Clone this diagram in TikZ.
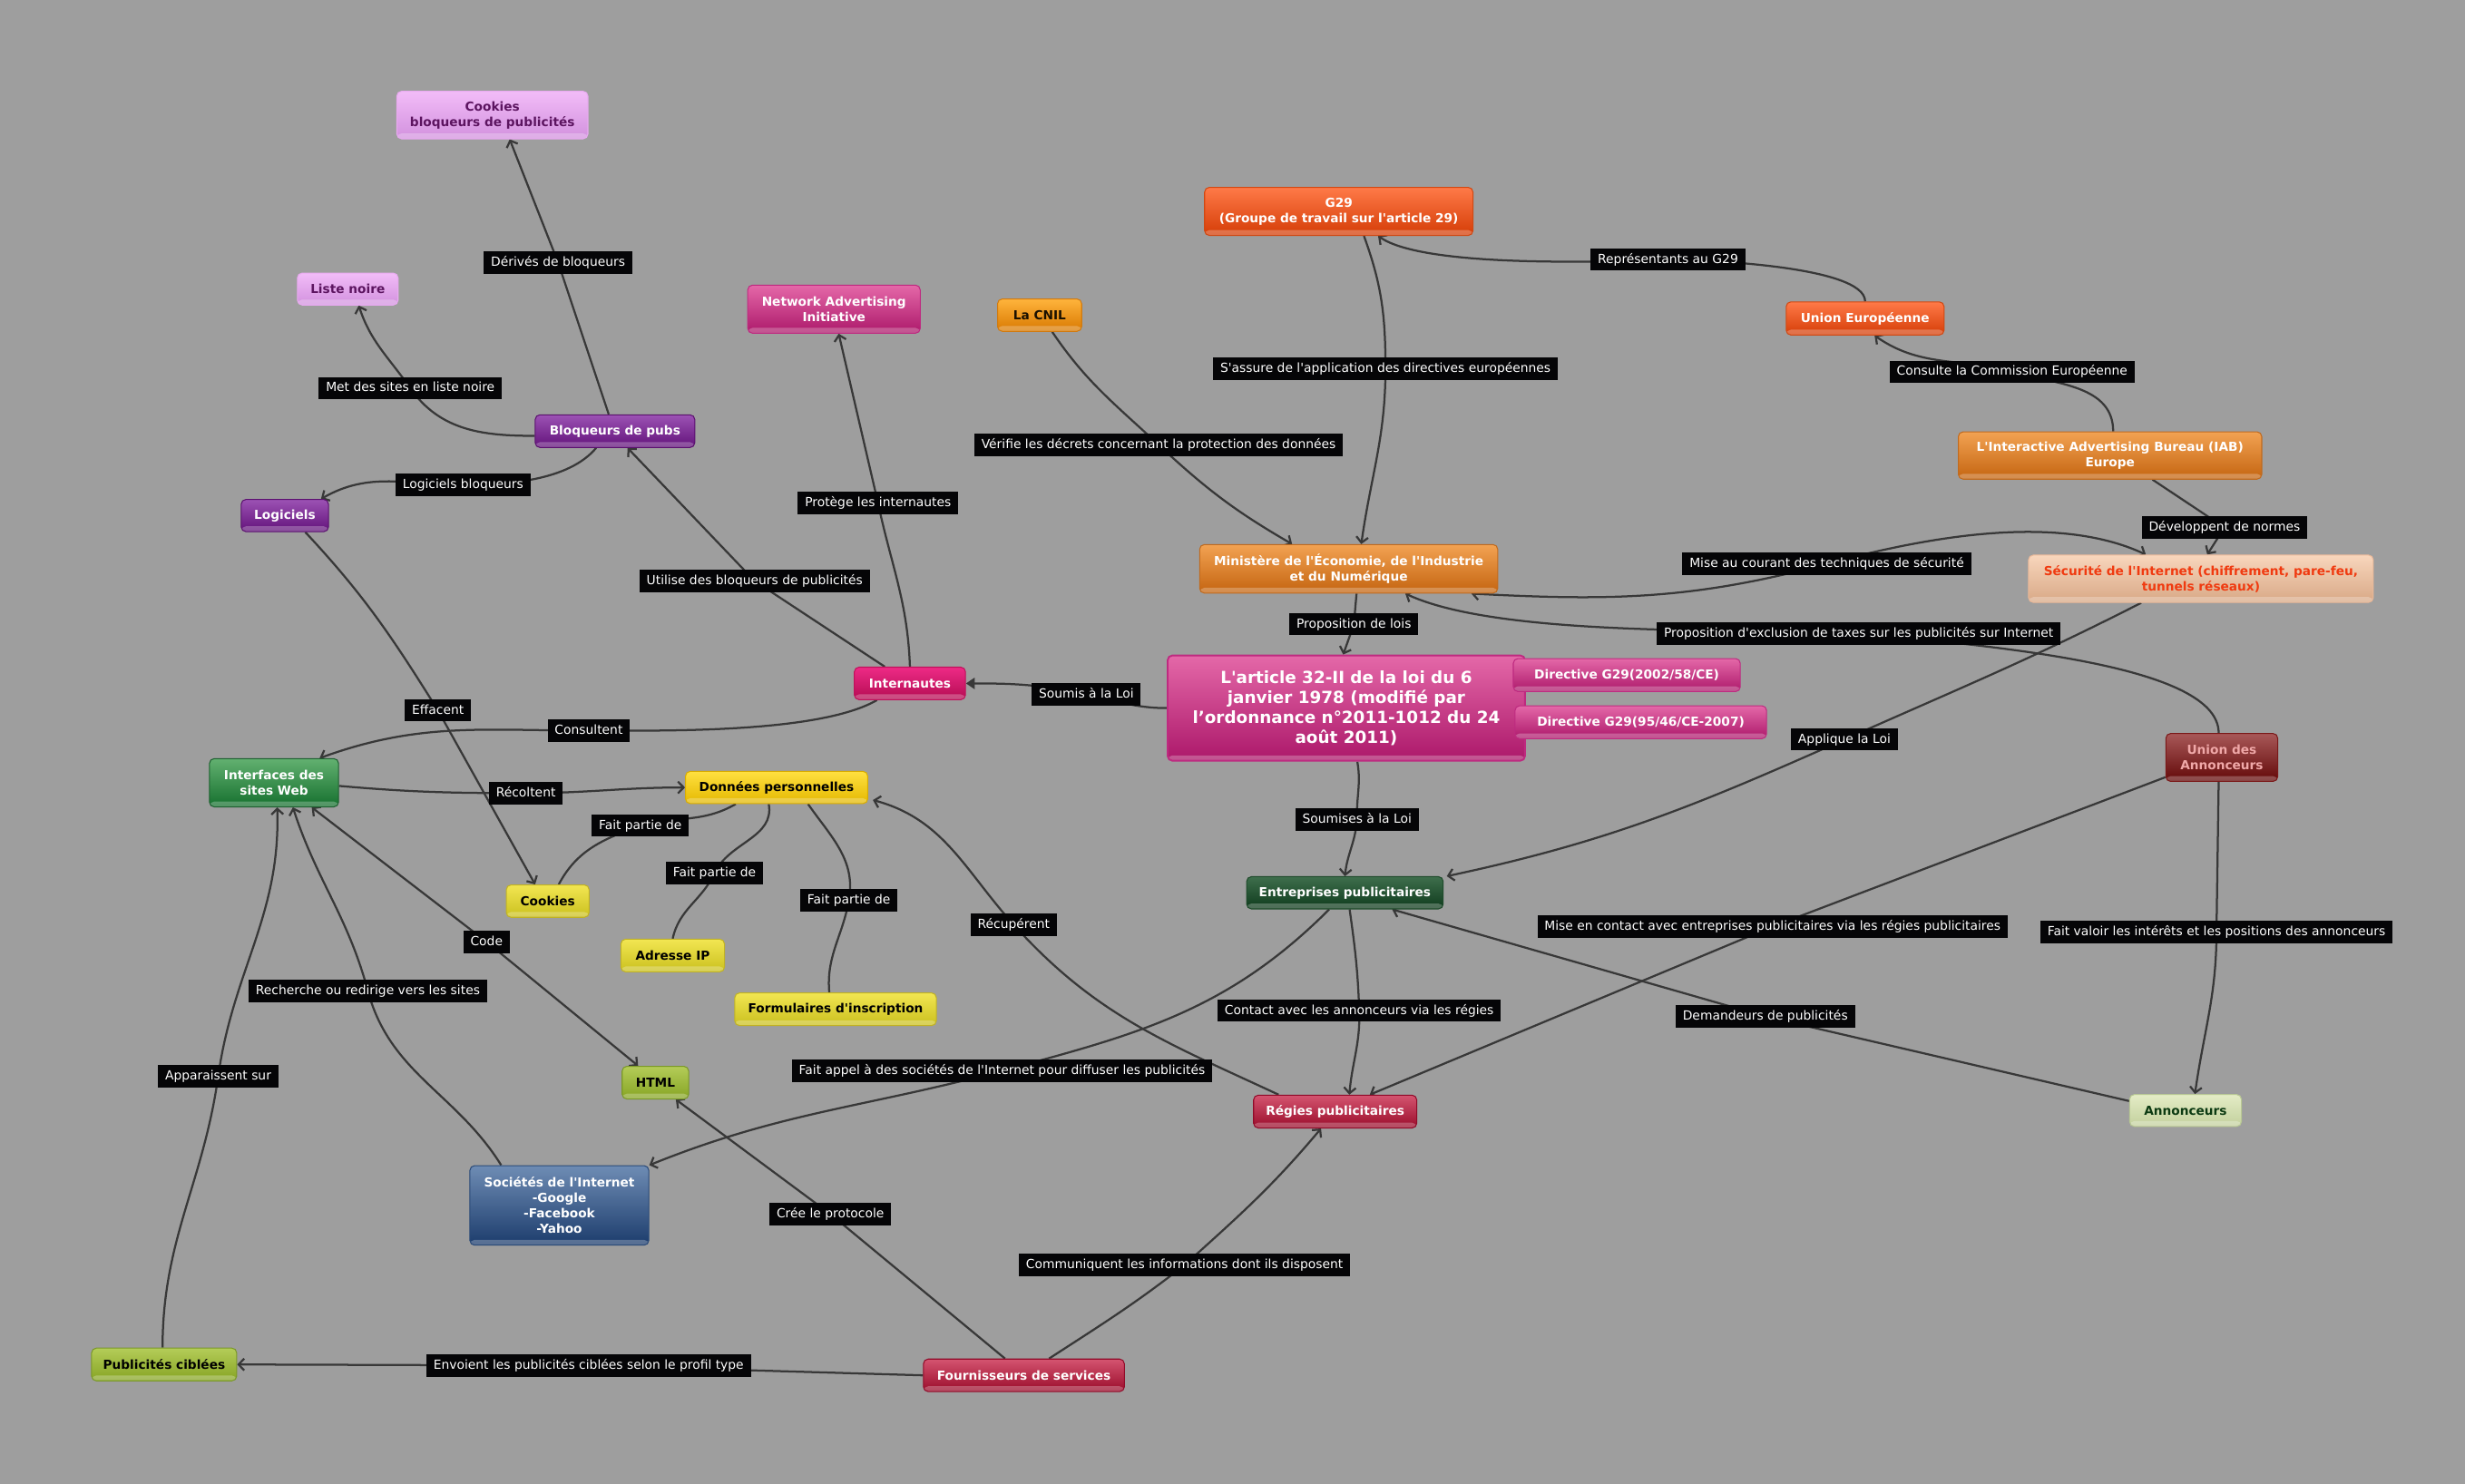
\documentclass[tikz,border=0pt]{standalone}
\usepackage{fontspec}
\setmainfont{DejaVu Sans}[Ligatures=TeXOff]
\usetikzlibrary{arrows.meta,shadings}
\definecolor{bgC}{HTML}{9E9E9E}
\definecolor{lineC}{HTML}{383838}
\definecolor{lblbg}{HTML}{050507}
\definecolor{pinkT}{HTML}{F2BCF8}\definecolor{pinkB}{HTML}{D291DE}\definecolor{pinkD}{HTML}{E8AAF0}\definecolor{pinkTxt}{HTML}{5C1460}
\definecolor{magT}{HTML}{E468A8}\definecolor{magB}{HTML}{AC186A}\definecolor{magD}{HTML}{BE2A80}
\definecolor{hotT}{HTML}{EE2A86}\definecolor{hotB}{HTML}{B40C52}\definecolor{hotD}{HTML}{C0105A}
\definecolor{cnT}{HTML}{FFB43C}\definecolor{cnB}{HTML}{D87800}\definecolor{cnD}{HTML}{D07A10}\definecolor{cnTxt}{HTML}{1A1000}
\definecolor{roT}{HTML}{FF7A48}\definecolor{roB}{HTML}{D43C06}\definecolor{roD}{HTML}{D04812}
\definecolor{orT}{HTML}{F2A252}\definecolor{orB}{HTML}{C46410}\definecolor{orD}{HTML}{C06A1E}
\definecolor{peT}{HTML}{F8D6BC}\definecolor{peB}{HTML}{D8A886}\definecolor{peD}{HTML}{EAB898}\definecolor{peTxt}{HTML}{F03A10}
\definecolor{puT}{HTML}{9C52B4}\definecolor{puB}{HTML}{62127A}\definecolor{puD}{HTML}{5A106E}
\definecolor{grT}{HTML}{62B070}\definecolor{grB}{HTML}{15702E}\definecolor{grD}{HTML}{1E6030}
\definecolor{yeT}{HTML}{FFE040}\definecolor{yeB}{HTML}{E4B800}\definecolor{yeD}{HTML}{D8AC00}
\definecolor{ytT}{HTML}{F2E652}\definecolor{ytB}{HTML}{CAC01E}\definecolor{ytD}{HTML}{C0B224}
\definecolor{dgT}{HTML}{3E6E4C}\definecolor{dgB}{HTML}{0E3A1C}\definecolor{dgD}{HTML}{1E4A2A}
\definecolor{drT}{HTML}{A85858}\definecolor{drB}{HTML}{620808}\definecolor{drD}{HTML}{7A1818}\definecolor{drTxt}{HTML}{F0A8A8}
\definecolor{olT}{HTML}{B4CC58}\definecolor{olB}{HTML}{86A424}\definecolor{olD}{HTML}{7A9828}
\definecolor{crT}{HTML}{D45470}\definecolor{crB}{HTML}{9A0C2A}\definecolor{crD}{HTML}{900A28}
\definecolor{lgT}{HTML}{E4ECC6}\definecolor{lgB}{HTML}{C2D09C}\definecolor{lgD}{HTML}{B8C894}\definecolor{lgTxt}{HTML}{0C3A12}
\definecolor{blT}{HTML}{6E8CB4}\definecolor{blB}{HTML}{1C3C6C}\definecolor{blD}{HTML}{2A4A78}
\newcommand{\lblfont}{\fontsize{8}{9.6}\selectfont}
\newcommand{\ndfont}{\fontsize{7.9}{9.8}\selectfont\bfseries}
\newcommand{\artfont}{\fontsize{10.6}{12.8}\selectfont\bfseries}
\pgfdeclarelayer{bgl}\pgfdeclarelayer{edges}\pgfsetlayers{bgl,edges,main}
\tikzset{
  box/.style={rounded corners=3pt, align=center, font=\ndfont, inner xsep=2pt, inner ysep=1pt, line width=0.6pt},
  gl/.style n args={4}{box, top color=#1, bottom color=#2, draw=#3, text=#4,
    path picture={\fill[white,opacity=0.26] ([yshift=3.4pt]path picture bounding box.south west) rectangle (path picture bounding box.south east);}},
  sz/.style 2 args={minimum width=#1, minimum height=#2},
  pinkbox/.style={gl={pinkT}{pinkB}{pinkD}{pinkTxt}},
  magbox/.style={gl={magT}{magB}{magD}{white}},
  hotbox/.style={gl={hotT}{hotB}{hotD}{white}},
  cnbox/.style={gl={cnT}{cnB}{cnD}{cnTxt}},
  robox/.style={gl={roT}{roB}{roD}{white}},
  orbox/.style={gl={orT}{orB}{orD}{white}},
  pebox/.style={gl={peT}{peB}{peD}{peTxt}},
  pubox/.style={gl={puT}{puB}{puD}{white}},
  grbox/.style={gl={grT}{grB}{grD}{white}},
  yebox/.style={gl={yeT}{yeB}{yeD}{black}},
  ytbox/.style={gl={ytT}{ytB}{ytD}{black}},
  dgbox/.style={gl={dgT}{dgB}{dgD}{white}},
  drbox/.style={gl={drT}{drB}{drD}{drTxt}},
  olbox/.style={gl={olT}{olB}{olD}{black}},
  crbox/.style={gl={crT}{crB}{crD}{white}},
  lgbox/.style={gl={lgT}{lgB}{lgD}{lgTxt}},
  blbox/.style={gl={blT}{blB}{blD}{white}},
  lbl/.style={fill=lblbg, text=white, font=\lblfont, inner xsep=4.5pt, inner ysep=0pt, minimum height=14.1pt, text height=6.1pt, text depth=1.7pt},
  conn/.style={draw=lineC, line width=1.3pt},
  arr/.style={-{Straight Barb[length=3.6pt,width=7.5pt]}},
  barr/.style={{Straight Barb[length=3.6pt,width=7.5pt]}-{Straight Barb[length=3.6pt,width=7.5pt]}},
  tarr/.style={-{Triangle[length=5.5pt,width=7pt]}}
}
\begin{document}
\begin{tikzpicture}[x=1pt,y=1pt]
\useasboundingbox (0,0) rectangle (1568,-944);
\begin{pgfonlayer}{bgl}
\fill[bgC] (0,0) rectangle (1568,-944);
\end{pgfonlayer}

% nodes
\node[pinkbox, sz={121.5pt}{30.2pt}] (ckb) at (313.2,-73.2) {Cookies\\bloqueurs de publicités};
\node[pinkbox, sz={64pt}{20.3pt}] (lno) at (221.2,-183.9) {Liste noire};
\node[magbox, sz={109.7pt}{30.6pt}] (nai) at (530.5,-196.7) {Network Advertising\\Initiative};
\node[cnbox, sz={53.5pt}{20.6pt}] (cnil) at (661.3,-200.5) {La CNIL};
\node[robox, sz={170.7pt}{30.6pt}] (g29) at (851.6,-134.5) {G29\\(Groupe de travail sur l'article 29)};
\node[robox, sz={100.4pt}{21.1pt}] (ue) at (1186.4,-202.6) {Union Européenne};
\node[orbox, sz={193pt}{30.1pt}] (iab) at (1342.2,-289.8) {L'Interactive Advertising Bureau (IAB)\\Europe};
\node[pebox, sz={219.3pt}{30.1pt}] (secu) at (1400,-368.2) {Sécurité de l'Internet (chiffrement, pare-feu,\\tunnels réseaux)};
\node[orbox, sz={189.6pt}{30.9pt}] (mini) at (857.9,-361.9) {Ministère de l'Économie, de l'Industrie\\et du Numérique};
\node[pubox, sz={101.5pt}{20.8pt}] (blq) at (391.2,-274.3) {Bloqueurs de pubs};
\node[pubox, sz={55.5pt}{20.5pt}] (logi) at (181.2,-328) {Logiciels};
\node[hotbox, sz={70.7pt}{20.7pt}] (inte) at (578.8,-434.8) {Internautes};
\node[magbox, sz={227.3pt}{67pt}, font=\artfont, line width=1.1pt] (art) at (856.4,-450.5) {L'article 32-II de la loi du 6\\janvier 1978 (modifié par\\l’ordonnance n°2011-1012 du 24\\août 2011)};
\node[magbox, sz={144.4pt}{21pt}] (dir1) at (1034.8,-429.5) {Directive G29(2002/58/CE)};
\node[magbox, sz={160pt}{21pt}] (dir2) at (1043.7,-459.5) {Directive G29(95/46/CE-2007)};
\node[grbox, sz={82.1pt}{30.7pt}] (iface) at (174.3,-498) {Interfaces des\\sites Web};
\node[yebox, sz={115.9pt}{20.5pt}] (donn) at (494,-501) {Données personnelles};
\node[ytbox, sz={52.7pt}{20.6pt}] (cook) at (348.4,-573.3) {Cookies};
\node[ytbox, sz={65.9pt}{20.8pt}] (aip) at (427.9,-607.9) {Adresse IP};
\node[ytbox, sz={128.2pt}{20.8pt}] (form) at (531.5,-642.1) {Formulaires d'inscription};
\node[dgbox, sz={125pt}{20.5pt}] (entr) at (855.5,-568) {Entreprises publicitaires};
\node[drbox, sz={71.1pt}{30.5pt}] (uda) at (1413.3,-481.9) {Union des\\Annonceurs};
\node[olbox, sz={42.3pt}{20.8pt}] (html) at (416.9,-688.8) {HTML};
\node[crbox, sz={103.8pt}{20.9pt}] (regie) at (849.3,-707.2) {Régies publicitaires};
\node[lgbox, sz={71.1pt}{20.3pt}] (annon) at (1390.2,-706.5) {Annonceurs};
\node[blbox, sz={113.8pt}{50.6pt}] (soc) at (355.8,-766.9) {Sociétés de l'Internet\\-Google\\-Facebook\\-Yahoo};
\node[olbox, sz={92.3pt}{20.8pt}] (pub) at (104.4,-868.1) {Publicités ciblées};
\node[crbox, sz={127.8pt}{20.7pt}] (four) at (651.3,-875) {Fournisseurs de services};

% labels
\node[lbl] (L1) at (355,-167) {Dérivés de bloqueurs};
\node[lbl] (L2) at (261,-247) {Met des sites en liste noire};
\node[lbl] (L3) at (294.5,-308.5) {Logiciels bloqueurs};
\node[lbl] (L4) at (480,-369.6) {Utilise des bloqueurs de publicités};
\node[lbl] (L5) at (558.5,-320) {Protège les internautes};
\node[lbl] (L6) at (691,-441.7) {Soumis à la Loi};
\node[lbl] (L7) at (374.5,-464.8) {Consultent};
\node[lbl] (L8) at (278.6,-452) {Effacent};
\node[lbl] (L9) at (334.5,-504.6) {Récoltent};
\node[lbl] (L10) at (407.3,-525.3) {Fait partie de};
\node[lbl] (L11) at (454.5,-555.5) {Fait partie de};
\node[lbl] (L12) at (540,-572.7) {Fait partie de};
\node[lbl] (L13) at (309.5,-599.2) {Code};
\node[lbl] (L14) at (234,-630.4) {Recherche ou redirige vers les sites};
\node[lbl] (L15) at (138.8,-684.7) {Apparaissent sur};
\node[lbl] (L16) at (374.4,-868.8) {Envoient les publicités ciblées selon le profil type};
\node[lbl] (L17) at (528.2,-772.4) {Crée le protocole};
\node[lbl] (L18) at (753.5,-804.8) {Communiquent les informations dont ils disposent};
\node[lbl] (L19) at (644.8,-588.3) {Récupérent};
\node[lbl] (L20) at (637.4,-681.2) {Fait appel à des sociétés de l'Internet pour diffuser les publicités};
\node[lbl] (L21) at (864.6,-643) {Contact avec les annonceurs via les régies};
\node[lbl] (L22) at (1127.5,-589.5) {Mise en contact avec entreprises publicitaires via les régies publicitaires};
\node[lbl] (L23) at (1122.9,-646.7) {Demandeurs de publicités};
\node[lbl] (L24) at (1409.9,-593) {Fait valoir les intérêts et les positions des annonceurs};
\node[lbl] (L25) at (1173.2,-470.5) {Applique la Loi};
\node[lbl] (L26) at (1182.3,-403.1) {Proposition d'exclusion de taxes sur les publicités sur Internet};
\node[lbl] (L27) at (1162,-358.7) {Mise au courant des techniques de sécurité};
\node[lbl] (L28) at (1415,-335.6) {Développent de normes};
\node[lbl] (L29) at (1279.9,-236.7) {Consulte la Commission Européenne};
\node[lbl] (L30) at (1061,-165.2) {Représentants au G29};
\node[lbl] (L31) at (881.3,-234.5) {S'assure de l'application des directives européennes};
\node[lbl] (L32) at (737,-283) {Vérifie les décrets concernant la protection des données};
\node[lbl] (L33) at (861.2,-397.2) {Proposition de lois};
\node[lbl] (L34) at (863.2,-521.3) {Soumises à la Loi};

\begin{pgfonlayer}{edges}
\draw[conn,arr] ([xshift=-4pt]blq.north) -- (L1.center) -- ([xshift=11pt]ckb.south);
\draw[conn,arr] ([yshift=-3pt]blq.west) to[out=180,in=-55] (L2.center) to[out=125,in=-72] ([xshift=7pt]lno.south);
\draw[conn,arr] ([xshift=-12pt]blq.south) to[out=-130,in=0,looseness=0.8] (L3.center) to[out=180,in=30] ([xshift=23pt]logi.north);
\draw[conn,arr] ([xshift=-16pt]inte.north) -- (L4.center) -- ([xshift=8pt]blq.south);
\draw[conn,arr] (inte.north) to[out=92,in=-78] (L5.center) -- ([xshift=3pt]nai.south);
\draw[conn,tarr] (art.west) to[out=180,in=-12] (L6.center) to[out=168,in=0] (inte.east);
\draw[conn,arr] ([xshift=-21pt]inte.south) to[out=-150,in=0,looseness=0.6] (L7.center) to[out=180,in=20] ([xshift=29pt]iface.north);
\draw[conn,arr] ([xshift=13pt]logi.south) to[out=-47,in=122] (L8.center) -- ([xshift=-8pt]cook.north);
\draw[conn,arr] ([yshift=-2pt]iface.east) to[out=-5,in=180] (L9.center) to[out=0,in=180] (donn.west);
\draw[conn] ([xshift=7pt]cook.north) to[out=62,in=200] (L10.center) to[out=15,in=-150] ([xshift=-26pt]donn.south);
\draw[conn] (aip.north) to[out=78,in=-115] (L11.center) to[out=65,in=-80] ([xshift=-5pt]donn.south);
\draw[conn] ([xshift=-4pt]form.north) to[out=95,in=-100] (L12.center) to[out=80,in=-55] ([xshift=20pt]donn.south);
\draw[conn,barr] ([xshift=24pt]iface.south) -- (L13.center) -- ([xshift=-11pt]html.north);
\draw[conn,arr] ([xshift=-37pt]soc.north) to[out=122,in=-75] (L14.center) to[out=105,in=-72] ([xshift=12pt]iface.south);
\draw[conn,arr] ([xshift=-1pt]pub.north) to[out=90,in=-98] (L15.center) to[out=82,in=-88] ([xshift=2pt]iface.south);
\draw[conn,arr] (four.west) -- (L16.center) -- (pub.east);
\draw[conn,arr] ([xshift=-12pt]four.north) -- (L17.center) -- ([xshift=13pt]html.south);
\draw[conn,arr] ([xshift=16pt]four.north) to[out=33,in=-142] (L18.center) to[out=42,in=-130] ([xshift=-9pt]regie.south);
\draw[conn,arr] ([xshift=-36pt]regie.north) to[out=155,in=-48] (L19.center) to[out=132,in=-15] ([xshift=3pt,yshift=-8pt]donn.east);
\draw[conn,arr] ([xshift=-10pt]entr.south) to[out=-135,in=15] (L20.center) to[out=195,in=22] (soc.north east);
\draw[conn,arr] ([xshift=3pt]entr.south) to[out=-82,in=92] (L21.center) to[out=-88,in=85] ([xshift=9pt]regie.north);
\draw[conn,arr] ([yshift=3pt]uda.south west) -- (L22.center) -- ([xshift=22pt]regie.north);
\draw[conn,arr] ([yshift=6pt]annon.west) -- (L23.center) -- ([xshift=30pt]entr.south);
\draw[conn,arr] ([xshift=-2pt]uda.south) -- (L24.center) to[out=-90,in=82] ([xshift=6pt]annon.north);
\draw[conn,arr] ([xshift=-38pt]secu.south) to[out=-153,in=24] (L25.center) to[out=-156,in=12] ([xshift=2pt]entr.north east);
\draw[conn,arr] ([xshift=-2pt]uda.north) to[out=90,in=-5,out distance=40pt,in distance=110pt] (L26.center) to[out=177,in=-25,looseness=0.6] ([xshift=36pt]mini.south);
\draw[conn,barr] ([xshift=78pt]mini.south) to[out=-3,in=195] (L27.center) to[out=15,in=155,looseness=0.8] ([xshift=-35pt]secu.north);
\draw[conn,arr] ([xshift=27pt]iab.south) -- (L28.center) -- ([xshift=4pt]secu.north);
\draw[conn,arr] ([xshift=2pt]iab.north) to[out=90,in=-15] (L29.center) to[out=165,in=-35] ([xshift=6pt]ue.south);
\draw[conn,arr] (ue.north) to[out=90,in=0,looseness=0.45] (L30.center) to[out=182,in=-35,looseness=0.5] ([xshift=25pt]g29.south);
\draw[conn,arr] ([xshift=16pt]g29.south) to[out=-70,in=90] (L31.center) to[out=-90,in=82] ([xshift=8pt]mini.north);
\draw[conn,arr] ([xshift=8pt]cnil.south) to[out=-56,in=137] (L32.center) to[out=-43,in=150] ([xshift=-36pt]mini.north);
\draw[conn,arr] ([xshift=5pt]mini.south) -- (L33.center) -- ([xshift=-2pt]art.north);
\draw[conn,arr] ([xshift=7pt]art.south) to[out=-80,in=92] (L34.center) to[out=-94,in=84] (entr.north);
\end{pgfonlayer}
\end{tikzpicture}
\end{document}
